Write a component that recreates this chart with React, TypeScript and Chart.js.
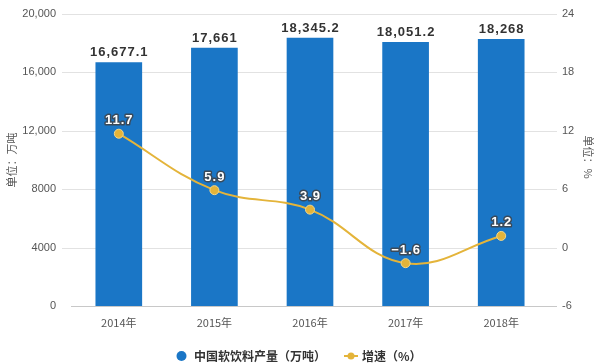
import React, { useEffect, useRef } from "react";
import { Chart, registerables } from "chart.js";

Chart.register(...registerables);

const categories = ["2014年", "2015年", "2016年", "2017年", "2018年"];
const outputValues = [16677.1, 17661, 18345.2, 18051.2, 18268];
const outputLabels = ["16,677.1", "17,661", "18,345.2", "18,051.2", "18,268"];
const growthValues = [11.7, 5.9, 3.9, -1.6, 1.2];
const leftTickLabels: Record<number, string> = {
  0: "0",
  4000: "4000",
  8000: "8000",
  12000: "12,000",
  16000: "16,000",
  20000: "20,000",
};
const barLegend = "中国软饮料产量（万吨）";
const lineLegend = "增速（%）";
const leftTitle = "单位：万吨";
const rightTitle = "单位：%";

const BLUE = "#1a76c6";
const GOLD = "#e4b43a";
const FONT = "'Liberation Sans', Arial, 'Noto Sans CJK SC', sans-serif";
const CJK = "'Noto Sans CJK SC', 'Liberation Sans', sans-serif";

const gridPlugin = {
  id: "customGrid",
  beforeDatasetsDraw(chart: any) {
    const { ctx, chartArea } = chart;
    const y = chart.scales.y;
    ctx.save();
    y.ticks.forEach((t: any) => {
      const py = Math.round(y.getPixelForValue(t.value)) + 0.5;
      ctx.beginPath();
      if (t.value === 0) {
        ctx.strokeStyle = "#c8c8c8";
        ctx.moveTo(chartArea.left, py);
      } else {
        ctx.strokeStyle = "#e2e2e2";
        ctx.moveTo(chartArea.left - 9, py);
      }
      ctx.lineTo(chartArea.right + 8, py);
      ctx.lineWidth = 1;
      ctx.stroke();
    });
    ctx.restore();
  },
};

const labelPlugin = {
  id: "valueLabels",
  afterDatasetsDraw(chart: any) {
    const { ctx } = chart;
    ctx.save();
    ctx.textAlign = "center";
    ctx.textBaseline = "middle";
    const barMeta = chart.getDatasetMeta(0);
    ctx.font = `bold 13px ${FONT}`;
    (ctx as any).letterSpacing = "1px";
    ctx.fillStyle = "#333333";
    barMeta.data.forEach((el: any, i: number) => {
      ctx.fillText(outputLabels[i], el.x + 0.5, el.y - 10);
    });
    const lineMeta = chart.getDatasetMeta(1);
    ctx.font = `bold 13px ${FONT}`;
    lineMeta.data.forEach((el: any, i: number) => {
      const txt = String(growthValues[i]).replace("-", "−");
      ctx.lineWidth = 3;
      ctx.strokeStyle = "#3a4a5a";
      ctx.lineJoin = "round";
      ctx.strokeText(txt, el.x + 0.5, el.y - 13);
      ctx.fillStyle = "#ffffff";
      ctx.fillText(txt, el.x + 0.5, el.y - 13);
    });
    ctx.restore();
  },
};

const legendPlugin = {
  id: "customLegend",
  afterDraw(chart: any) {
    const { ctx, chartArea } = chart;
    ctx.save();
    const midY = (chartArea.top + chartArea.bottom) / 2;
    ctx.font = `11px ${CJK}`;
    ctx.fillStyle = "#555555";
    ctx.textAlign = "center";
    ctx.textBaseline = "middle";
    ctx.save();
    ctx.translate(12, midY);
    ctx.rotate(-Math.PI / 2);
    ctx.fillText(leftTitle, 0, 0);
    ctx.restore();
    ctx.save();
    ctx.translate(588, midY - 3);
    ctx.rotate(Math.PI / 2);
    ctx.fillText(rightTitle, 0, 0);
    ctx.restore();

    const cy = 356;
    ctx.fillStyle = BLUE;
    ctx.beginPath();
    ctx.arc(181.5, cy, 5, 0, Math.PI * 2);
    ctx.fill();
    ctx.font = `bold 12px ${CJK}`;
    ctx.textBaseline = "middle";
    ctx.textAlign = "left";
    ctx.fillStyle = "#333333";
    ctx.fillText(barLegend, 194, cy);
    ctx.strokeStyle = GOLD;
    ctx.lineWidth = 2;
    ctx.beginPath();
    ctx.moveTo(344, cy);
    ctx.lineTo(358, cy);
    ctx.stroke();
    ctx.fillStyle = GOLD;
    ctx.beginPath();
    ctx.arc(351, cy, 3.5, 0, Math.PI * 2);
    ctx.fill();
    ctx.fillStyle = "#333333";
    ctx.fillText(lineLegend, 362, cy);
    ctx.restore();
  },
};

export default function App() {
  const ref = useRef<HTMLCanvasElement>(null);
  useEffect(() => {
    document.body.style.margin = "0";
    const chart = new Chart(ref.current!, {
      type: "bar",
      data: {
        labels: categories,
        datasets: [
          {
            type: "bar",
            label: barLegend,
            data: outputValues,
            backgroundColor: BLUE,
            yAxisID: "y",
            barThickness: 46,
            order: 2,
          },
          {
            type: "line",
            label: lineLegend,
            data: growthValues,
            borderColor: GOLD,
            borderWidth: 2,
            backgroundColor: GOLD,
            pointBackgroundColor: GOLD,
            pointBorderColor: "#f3d88a",
            pointBorderWidth: 1,
            pointRadius: 4.5,
            tension: 0.4,
            yAxisID: "y1",
            order: 1,
          } as any,
        ],
      },
      options: {
        animation: false,
        responsive: false,
        maintainAspectRatio: false,
        layout: { padding: { left: 0, right: 0, top: 14, bottom: 0 } },
        plugins: {
          legend: { display: false },
          tooltip: { enabled: false },
        },
        scales: {
          x: {
            grid: { display: false, drawTicks: false },
            border: { display: false },
            ticks: {
              color: "#555555",
              font: { size: 11, family: CJK },
              padding: 10,
            },
            afterFit(scale: any) {
              scale.height = 57;
              scale.paddingLeft = 0;
              scale.paddingRight = 0;
            },
          },
          y: {
            position: "left",
            min: 0,
            max: 20000,
            grid: { display: false, drawTicks: false },
            border: { display: false },
            ticks: {
              stepSize: 4000,
              color: "#555555",
              font: { size: 11, family: FONT },
              padding: 15,
              callback: (v: any) => leftTickLabels[v as number] ?? String(v),
            },
            afterFit(scale: any) {
              scale.width = 71;
              scale.paddingTop = 0;
              scale.paddingBottom = 0;
            },
          },
          y1: {
            position: "right",
            min: -6,
            max: 24,
            grid: { display: false, drawTicks: false },
            border: { display: false },
            ticks: {
              stepSize: 6,
              color: "#555555",
              font: { size: 11, family: FONT },
              padding: 13,
            },
            afterFit(scale: any) {
              scale.width = 51;
              scale.paddingTop = 0;
              scale.paddingBottom = 0;
            },
          },
        },
      },
      plugins: [gridPlugin, labelPlugin, legendPlugin],
    });
    return () => chart.destroy();
  }, []);
  return (
    <div style={{ position: "absolute", left: 0, top: 0, width: 600, height: 363 }}>
      <canvas ref={ref} width={600} height={363} style={{ width: 600, height: 363 }} />
    </div>
  );
}
